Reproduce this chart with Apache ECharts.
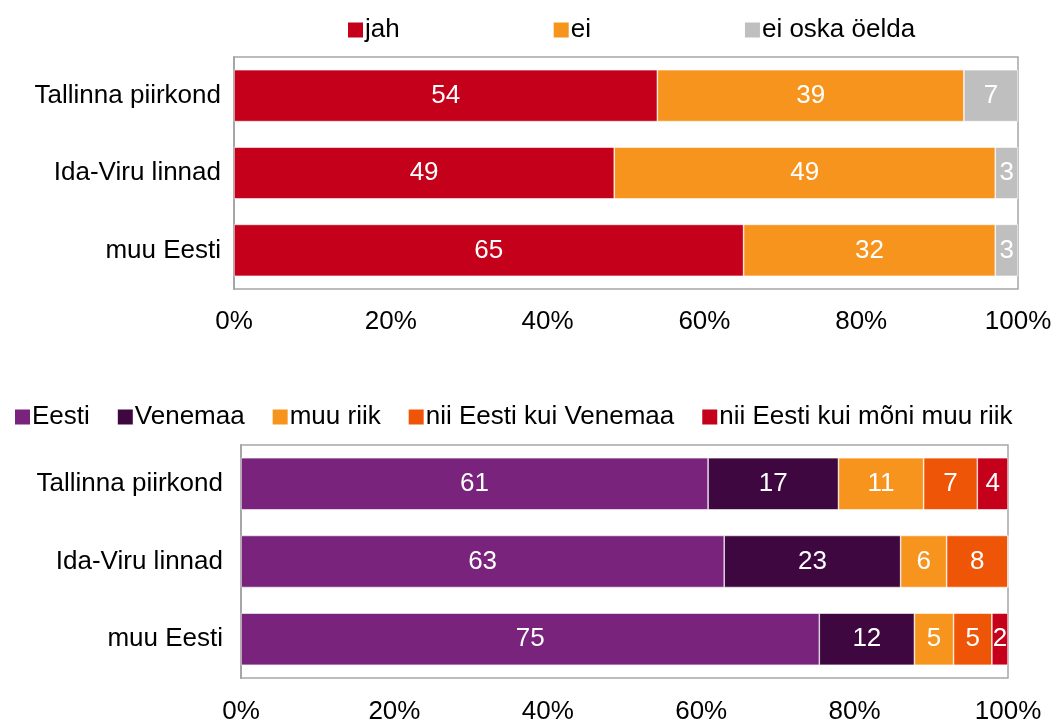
<!DOCTYPE html>
<html>
<head>
<meta charset="utf-8">
<script src="https://cdn.jsdelivr.net/npm/echarts@6/dist/echarts.min.js"></script>
<style>
  html, body { margin: 0; padding: 0; background: #fff; }
  #main { width: 1052px; height: 719px; }
</style>
</head>
<body>
<div id="main"></div>
<script>
// piirkonnad (both panels)
var regions = ['Tallinna piirkond', 'Ida-Viru linnad', 'muu Eesti'];
var xTicks = [0, 20, 40, 60, 80, 100];

// panel 1
var names1 = ['jah', 'ei', 'ei oska öelda'];
var jah = [54.0, 48.5, 65.0];
var ei = [39.1, 48.6, 32.1];
var eiOska = [6.9, 2.9, 2.9];

// panel 2
var names2 = ['Eesti', 'Venemaa', 'muu riik', 'nii Eesti kui Venemaa', 'nii Eesti kui mõni muu riik'];
var eesti = [60.9, 63.0, 75.4];
var venemaa = [17.0, 23.0, 12.4];
var muuRiik = [11.1, 6.0, 5.1];
var eestiVenemaa = [7.0, 8.0, 5.0];
var eestiMuu = [4.0, 0, 2.1];

var FONT = "'Liberation Sans', Arial, sans-serif";
var FS = 26;
var colors1 = ['#C5001A', '#F7941E', '#BFBFBF'];
var colors2 = ['#79237D', '#3E0740', '#F7941E', '#EF5506', '#C5001A'];

var chart = echarts.init(document.getElementById('main'), null, { renderer: 'canvas' });

function barSeries(name, data, color, idx) {
  return {
    name: name,
    type: 'bar',
    stack: 'total' + idx,
    xAxisIndex: idx,
    yAxisIndex: idx,
    barCategoryGap: '33%',
    data: data,
    itemStyle: { color: color, borderColor: '#ffffff', borderWidth: 0.6 },
    label: {
      show: true,
      position: 'inside',
      color: '#ffffff',
      fontFamily: FONT,
      fontSize: FS,
      formatter: function (p) {
        return p.value ? String(Math.round(p.value)) : '';
      }
    }
  };
}

function xAxisFor(idx, margin) {
  return {
    gridIndex: idx,
    type: 'value',
    min: 0,
    max: 100,
    interval: 20,
    axisLine: { show: false },
    axisTick: { show: false },
    splitLine: { show: false },
    axisLabel: {
      margin: margin,
      color: '#000',
      fontFamily: FONT,
      fontSize: FS,
      formatter: function (v) { return xTicks.indexOf(v) >= 0 ? v + '%' : ''; }
    }
  };
}

function yAxisFor(idx, margin) {
  return {
    gridIndex: idx,
    type: 'category',
    inverse: true,
    data: regions,
    axisLine: { show: true, lineStyle: { color: '#A6A6A6', width: 2 } },
    axisTick: { show: false },
    axisLabel: { margin: margin, color: '#000', fontFamily: FONT, fontSize: FS }
  };
}

var series = [];
[jah, ei, eiOska].forEach(function (d, i) {
  series.push(barSeries(names1[i], d, colors1[i], 0));
});
[eesti, venemaa, muuRiik, eestiVenemaa, eestiMuu].forEach(function (d, i) {
  series.push(barSeries(names2[i], d, colors2[i], 1));
});

var option = {
  animation: false,
  backgroundColor: '#ffffff',
  textStyle: { fontFamily: FONT },
  legend: [
    {
      data: names1,
      left: 341,
      top: 12,
      itemGap: 152,
      itemWidth: 17,
      itemHeight: 17,
      icon: 'rect',
      textStyle: { color: '#000', fontSize: FS, fontFamily: FONT, padding: [0, 0, 0, -4] }
    },
    {
      data: names2,
      left: 8,
      top: 399,
      itemGap: 26,
      itemWidth: 17,
      itemHeight: 17,
      icon: 'rect',
      textStyle: { color: '#000', fontSize: FS, fontFamily: FONT, padding: [0, 0, 0, -4] }
    }
  ],
  grid: [
    { left: 234, right: 34, top: 57, height: 232, show: true, borderColor: '#A6A6A6', borderWidth: 1.5, outerBoundsMode: 'none' },
    { left: 241, right: 44, top: 445, height: 233, show: true, borderColor: '#A6A6A6', borderWidth: 1.5, outerBoundsMode: 'none' }
  ],
  xAxis: [xAxisFor(0, 20), xAxisFor(1, 21)],
  yAxis: [yAxisFor(0, 13), yAxisFor(1, 18)],
  series: series
};

chart.setOption(option);
</script>
</body>
</html>
